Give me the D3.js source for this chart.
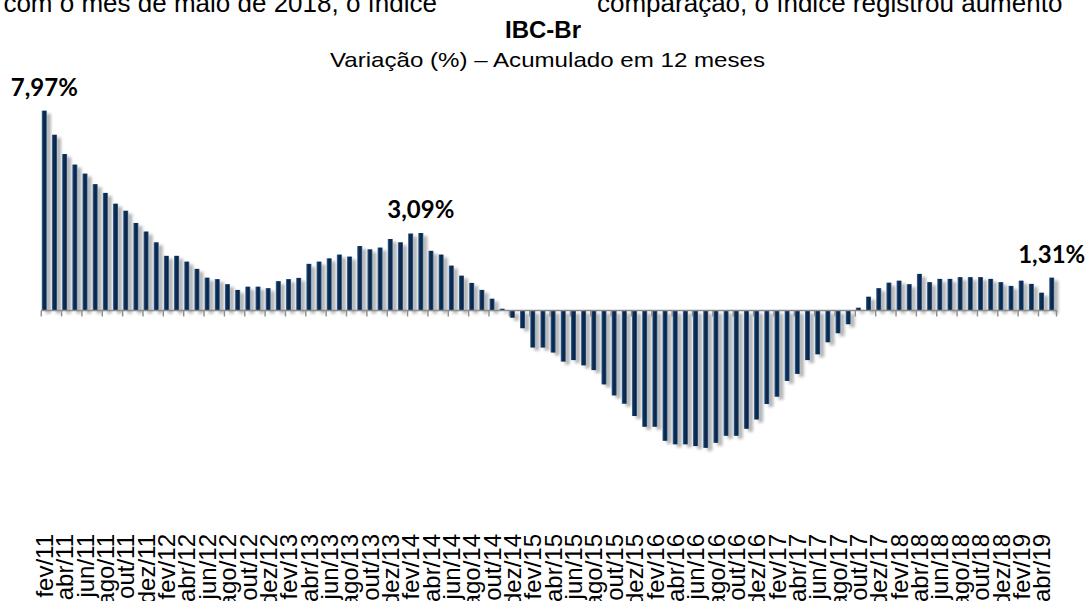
<!DOCTYPE html>
<html>
<head>
<meta charset="utf-8">
<script src="https://cdn.jsdelivr.net/npm/d3@7"></script>
<style>
  body { margin: 0; background: #fff; overflow: hidden; }
  svg { display: block; }
</style>
</head>
<body>
<div id="chart"></div>
<script>
(function(){
    // month abbreviations used to build the categories fev/11 .. mai/19
    const monthNames = ["jan","fev","mar","abr","mai","jun","jul","ago","set","out","nov","dez"];
    const categories = [];
    for (let yr = 11; yr <= 19; yr++) {
        monthNames.forEach(function(m, i) {
            if (yr === 11 && i < 1) return;
            if (yr === 19 && i > 4) return;
            categories.push(m + "/" + yr);
        });
    }

    // IBC-Br, variação acumulada em 12 meses (%)
    const values = [
        7.97, 7.01, 6.24, 5.82, 5.46, 5.04, 4.69, 4.26, 3.98, 3.49, 3.15,
        2.72, 2.18, 2.18, 1.95, 1.66, 1.31, 1.25, 1.05, 0.82, 0.95, 0.95, 0.89,
        1.17, 1.25, 1.30, 1.86, 1.95, 2.08, 2.23, 2.15, 2.57, 2.44, 2.51, 2.85,
        2.72, 3.07, 3.09, 2.38, 2.23, 1.79, 1.39, 1.10, 0.82, 0.47, 0.07, -0.29,
        -0.71, -1.48, -1.48, -1.68, -2.04, -1.98, -2.19, -2.38, -2.95, -3.39, -3.72, -4.21,
        -4.64, -4.64, -5.20, -5.34, -5.34, -5.41, -5.48, -5.28, -5.00, -5.00, -4.72, -4.35,
        -3.73, -3.44, -2.81, -2.53, -1.98, -1.75, -1.27, -0.91, -0.55, 0.11, 0.55, 0.89,
        1.11, 1.19, 1.05, 1.46, 1.13, 1.26, 1.26, 1.33, 1.33, 1.33, 1.26, 1.13,
        0.98, 1.19, 1.06, 0.71, 1.31
    ];

    // every second month gets a label
    const tickLabels = categories.filter(function(d, i) { return i % 2 === 0; });

    // highlighted values
    const highlights = [
        {cat: "fev/11", text: "7,97%"},
        {cat: "mar/14", text: "3,09%"},
        {cat: "mai/19", text: "1,31%"}
    ];

    const width = 1087, height = 601;

    const svg = d3.select("#chart").append("svg")
        .attr("width", width)
        .attr("height", height);

    const defs = svg.append("defs");

    const grad = defs.append("linearGradient")
        .attr("id", "barGrad")
        .attr("x1", "0").attr("x2", "1").attr("y1", "0").attr("y2", "0");
    grad.append("stop").attr("offset", "0%").attr("stop-color", "#4a78a6");
    grad.append("stop").attr("offset", "28%").attr("stop-color", "#0f2f55");
    grad.append("stop").attr("offset", "72%").attr("stop-color", "#0a2446");
    grad.append("stop").attr("offset", "100%").attr("stop-color", "#3d6a98");

    const shadow = defs.append("filter")
        .attr("id", "shadow")
        .attr("x", "-50%").attr("y", "-20%")
        .attr("width", "300%").attr("height", "140%");
    shadow.append("feGaussianBlur")
        .attr("in", "SourceAlpha")
        .attr("stdDeviation", 1.8);
    shadow.append("feOffset")
        .attr("dx", 3.5).attr("dy", 3);
    shadow.append("feComponentTransfer")
        .append("feFuncA").attr("type", "linear").attr("slope", 0.3);
    const merge = shadow.append("feMerge");
    merge.append("feMergeNode");
    merge.append("feMergeNode").attr("in", "SourceGraphic");

    // scales
    const x = d3.scaleBand()
        .domain(categories)
        .range([39.2, 1056.8])
        .paddingInner(0.5)
        .paddingOuter(0.25);

    const y = d3.scaleLinear()
        .domain([-6, 8])
        .range([460.9, 109.9]);

    // clipped running text of the page above the chart
    svg.append("text")
        .attr("x", 437).attr("y", 12)
        .attr("text-anchor", "end")
        .style("font-family", "'Liberation Sans', Arial, sans-serif")
        .style("font-size", "26px")
        .style("fill", "#000")
        .text("com o mês de maio de 2018, o índice");
    svg.append("text")
        .attr("x", 597).attr("y", 12)
        .style("font-family", "'Liberation Sans', Arial, sans-serif")
        .style("font-size", "26px")
        .style("fill", "#000")
        .text("comparação, o índice registrou aumento");

    // titles
    svg.append("text")
        .attr("x", 543).attr("y", 38)
        .attr("text-anchor", "middle")
        .style("font-family", "'Liberation Sans', Arial, sans-serif")
        .style("font-weight", "bold")
        .style("font-size", "24px")
        .text("IBC-Br");

    svg.append("text")
        .attr("x", 330).attr("y", 67)
        .attr("textLength", 435)
        .attr("lengthAdjust", "spacingAndGlyphs")
        .style("font-family", "'Liberation Sans', Arial, sans-serif")
        .style("font-size", "21px")
        .text("Variação (%) – Acumulado em 12 meses");

    // bars
    svg.append("g")
        .attr("filter", "url(#shadow)")
        .selectAll("rect")
        .data(values)
        .enter().append("rect")
        .attr("x", function(d, i) { return x(categories[i]); })
        .attr("width", x.bandwidth())
        .attr("y", function(d) { return y(Math.max(0, d)); })
        .attr("height", function(d) { return Math.abs(y(d) - y(0)); })
        .attr("fill", "url(#barGrad)");

    // zero axis with tick marks every two months
    const axisG = svg.append("g");
    axisG.append("line")
        .attr("x1", 41).attr("x2", 1057)
        .attr("y1", y(0)).attr("y2", y(0))
        .attr("stroke", "#8c8c8c")
        .attr("stroke-width", 1.6);

    axisG.selectAll(".tick")
        .data(tickLabels)
        .enter().append("line")
        .attr("class", "tick")
        .attr("x1", function(d) { return x(d) - 0.5; })
        .attr("x2", function(d) { return x(d) - 0.5; })
        .attr("y1", y(0))
        .attr("y2", y(0) + 6)
        .attr("stroke", "#8c8c8c")
        .attr("stroke-width", 1.4);

    axisG.append("line")
        .attr("x1", 1056.5).attr("x2", 1056.5)
        .attr("y1", y(0)).attr("y2", y(0) + 6)
        .attr("stroke", "#8c8c8c")
        .attr("stroke-width", 1.4);

    // rotated month labels
    svg.append("g")
        .selectAll("text")
        .data(tickLabels)
        .enter().append("text")
        .attr("transform", function(d) {
            return "translate(" + (x(d) + x.bandwidth() / 2 + 8.7) + ",534) rotate(-90)";
        })
        .attr("text-anchor", "end")
        .style("font-family", "'Liberation Sans', Arial, sans-serif")
        .style("font-size", "24px")
        .style("fill", "#000")
        .text(function(d) { return d; });

    // value labels
    svg.append("g")
        .selectAll("text")
        .data(highlights)
        .enter().append("text")
        .attr("x", function(d) { return x(d.cat) + x.bandwidth() / 2; })
        .attr("y", function(d) { return y(values[categories.indexOf(d.cat)]) - 15; })
        .attr("text-anchor", "middle")
        .style("font-family", "Lato, 'Open Sans', sans-serif")
        .style("font-weight", "bold")
        .style("font-size", "24px")
        .style("fill", "#000")
        .text(function(d) { return d.text; });
})();
</script>
</body>
</html>
